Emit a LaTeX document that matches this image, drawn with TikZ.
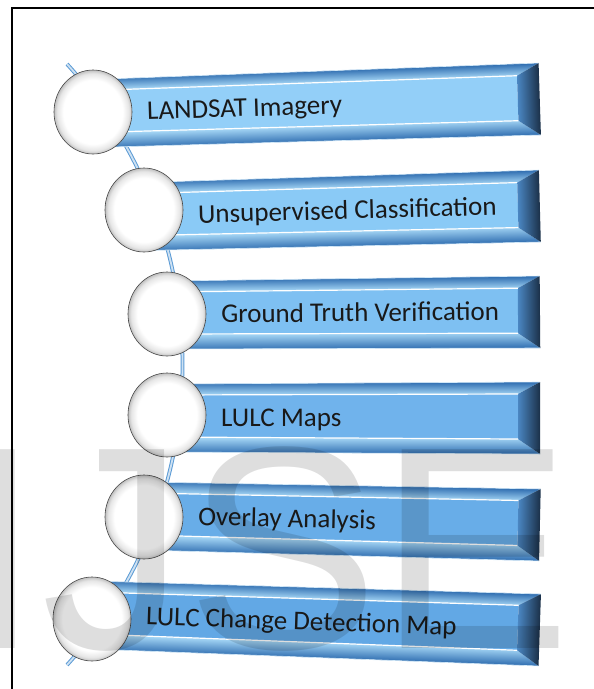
\documentclass[tikz,border=0pt]{standalone}
\usepackage{fontspec}
\setmainfont{Carlito}
\newfontfamily\markfont{Liberation Sans}
\usepackage{tikz}
\usetikzlibrary{positioning, shapes.geometric}

\definecolor{bandDark}{HTML}{2F6DB0}
\definecolor{bandLight}{HTML}{A9DAF8}
\definecolor{bevelMid}{HTML}{4A86C2}
\definecolor{bevelDark}{HTML}{1B3048}
\definecolor{barEdge}{HTML}{D3E9F8}
\definecolor{spineBlue}{HTML}{5B9BD5}
\definecolor{faceA}{HTML}{93CFF8}
\definecolor{faceB}{HTML}{8ACAF6}
\definecolor{faceC}{HTML}{7EC0F2}
\definecolor{faceD}{HTML}{70B3EC}
\definecolor{faceE}{HTML}{68ADE8}
\definecolor{faceF}{HTML}{62A8E5}

% white disc with a grey rim
\pgfdeclareradialshading{rimshade}{\pgfpoint{0bp}{0bp}}{color(0bp)=(white); color(19bp)=(white); color(23bp)=(gray!20); color(25bp)=(gray!50); color(50bp)=(gray!50)}

\tikzset{
  stage/.style={ellipse, minimum width=78pt, minimum height=84pt, inner sep=0pt,
    shade, shading=rimshade, draw=gray!55!black, line width=0.6pt},
  barlabel/.style={anchor=base west, inner sep=0pt, text=black!90,
    font=\fontsize{27}{32}\selectfont},
  barshine/.style={draw=white, line width=1.2pt},
  baredge/.style={draw=barEdge, line width=0.6pt},
  spine/.style={draw=spineBlue, line width=1pt, double=white!70!spineBlue, double distance=1.8pt},
  watermark/.style={anchor=base west, inner sep=0pt, text=black, text opacity=0.13,
    font=\markfont\fontsize{289}{289}\selectfont},
}

% #1 left end, #2 tilt, #3 length, #4 face colour, #5 label name, #6 label
\newcommand{\stagebar}[6]{%
  \begin{scope}[transform canvas={shift={#1}, rotate=#2}]
    \shade[top color=bandDark, bottom color=bandLight] (0,-34) -- (#3,-36) -- ({#3-22},-24) -- (0,-23) -- cycle;
    \shade[top color=bandLight, bottom color=bandDark] (0,19) -- ({#3-22},21) -- (#3,36) -- (0,34) -- cycle;
    \fill[#4] (0,-23) -- ({#3-22},-24) -- ({#3-22},21) -- (0,19) -- cycle;
    \shade[left color=bevelMid, right color=bevelDark] ({#3-22},-24) -- (#3,-36) -- (#3,36) -- ({#3-22},21) -- cycle;
    \draw[barshine] (0,-23) -- ({#3-22},-24) (0,19) -- ({#3-22},21);
    \draw[baredge] (0,-34) -- (#3,-36) (0,34) -- (#3,36);
    \node[barlabel] (#5) at (54,8) {#6};
  \end{scope}}

\begin{document}
\begin{tikzpicture}[x=1pt, y=-1pt]
  \useasboundingbox (0,0) rectangle (594,689);
  \clip (0,0) rectangle (594,689);
  \fill[white] (0,0) rectangle (594,689);

  % spine behind the discs
  \coordinate (spinetop) at (67,64);
  \coordinate (spinebottom) at (67,665);
  \draw[spine] (spinetop) .. controls (221,234) and (221,495) .. (spinebottom);

  % bars
  \stagebar{(93,113.5)}{1.86}{447}{faceA}{t1}{LANDSAT Imagery}
  \stagebar{(144,216.5)}{1.52}{396}{faceB}{t2}{Unsupervised Classification}
  \stagebar{(167,315)}{0.46}{373}{faceC}{t3}{Ground Truth Verification}
  \stagebar{(167,418)}{0}{373}{faceD}{t4}{LULC Maps}
  \stagebar{(144,516)}{-1.3}{396}{faceE}{t5}{Overlay Analysis}
  \stagebar{(92,615)}{-1.92}{448}{faceF}{t6}{LULC Change Detection Map}

  % discs
  \node[stage] (c1) at (93,112) {};
  \node[stage] (c2) at (144,210) {};
  \node[stage] (c3) at (167,314) {};
  \node[stage] (c4) at (167,415) {};
  \node[stage] (c5) at (144,517) {};
  \node[stage] (c6) at (92,619) {};

  \node[watermark] (mark) at (-39,648) {IJSER};

  \draw[line width=1.6pt] (12,700) |- (600,8);
\end{tikzpicture}
\end{document}
